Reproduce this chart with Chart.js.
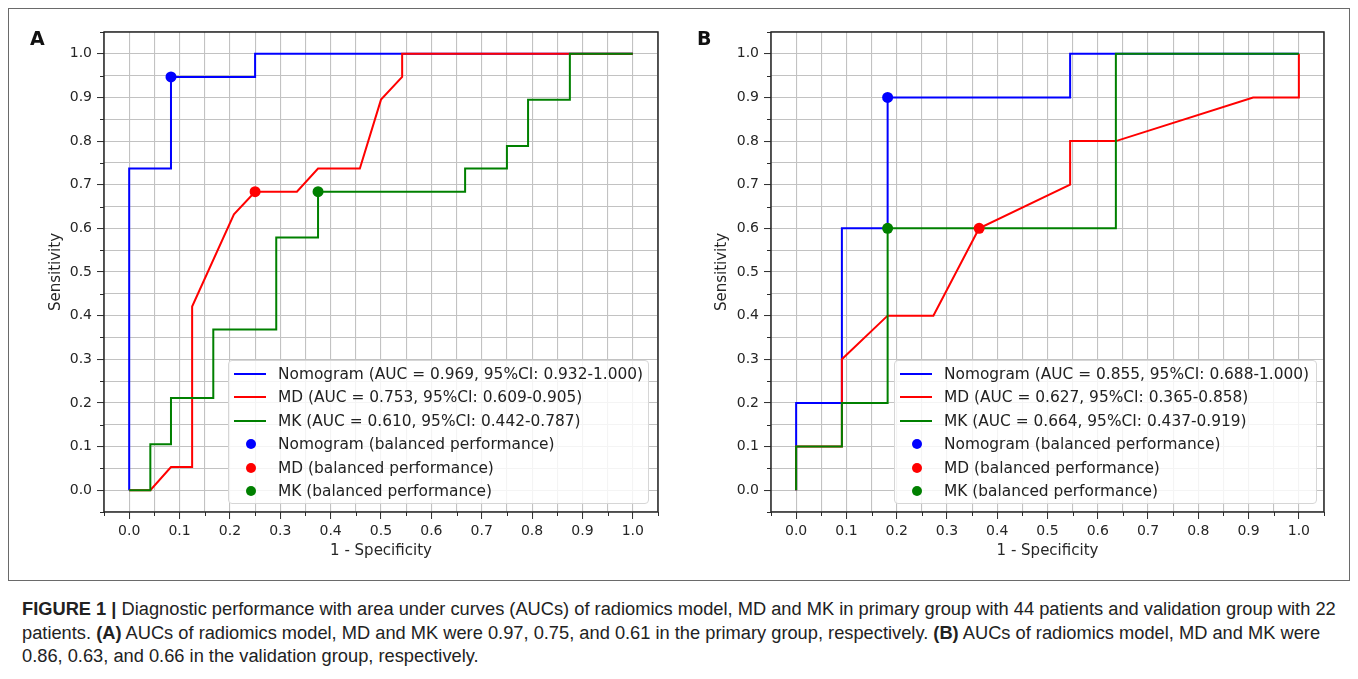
<!DOCTYPE html>
<html><head><meta charset="utf-8">
<script src="https://cdn.jsdelivr.net/npm/chart.js@4.4.0/dist/chart.umd.min.js"></script>
<style>
html,body{margin:0;padding:0;background:#fff;}
body{width:1358px;height:679px;overflow:hidden;position:relative;font-family:'DejaVu Sans',sans-serif;}
#frame{position:absolute;left:8px;top:8px;width:1342px;height:573px;border:1px solid #6a6a6a;box-sizing:border-box;}
canvas{position:absolute;top:0;}
#cA{left:0;} #cB{left:680px;}
.panel{position:absolute;font-family:'DejaVu Sans',sans-serif;font-weight:bold;font-size:19px;line-height:19px;color:#111;}
.legend{position:absolute;box-sizing:border-box;border:1px solid #d6d6d6;border-radius:4px;background:rgba(255,255,255,0.82);font-family:'DejaVu Sans',sans-serif;font-size:15.4px;color:#222;}
.row{position:absolute;left:0;height:20px;white-space:nowrap;}
.row .txt{position:absolute;left:49px;top:0;line-height:20px;}
.row .ln{position:absolute;left:5px;width:32px;height:2px;top:9px;}
.row .dt{position:absolute;left:17px;width:10px;height:10px;border-radius:50%;top:5px;}
#caption{position:absolute;left:22px;top:597px;font-family:'Liberation Sans',Arial,sans-serif;color:#222;line-height:23.5px;white-space:nowrap;}
</style>
</head><body>
<div id="frame"></div>
<canvas id="cA" width="680" height="580"></canvas>
<canvas id="cB" width="670" height="580"></canvas>
<div class="panel" style="left:30px;top:29px;">A</div>
<div class="panel" style="left:697px;top:29px;">B</div>
<div id="legA" class="legend" style="left:228px;top:360px;width:421px;height:144px;"></div>
<div id="legB" class="legend" style="left:894px;top:360px;width:423px;height:144px;"></div>
<div id="caption">
<div id="capL1"><b>FIGURE 1 |</b> Diagnostic performance with area under curves (AUCs) of radiomics model, MD and MK in primary group with 44 patients and validation group with 22</div>
<div>patients. <b>(A)</b> AUCs of radiomics model, MD and MK were 0.97, 0.75, and 0.61 in the primary group, respectively. <b>(B)</b> AUCs of radiomics model, MD and MK were</div>
<div>0.86, 0.63, and 0.66 in the validation group, respectively.</div>
</div>
<script>
// ---------- DATA ----------
// Panel A (primary group): 1 - specificity (fpr) and sensitivity (tpr)
const nomoA_fpr = [0, 0, 0.083, 0.083, 0.25, 0.25, 1.0];
const nomoA_tpr = [0, 0.737, 0.737, 0.947, 0.947, 1.0, 1.0];
const mdA_fpr = [0, 0.042, 0.083, 0.125, 0.125, 0.208, 0.25, 0.333, 0.375, 0.458, 0.5, 0.542, 0.542, 1.0];
const mdA_tpr = [0, 0, 0.053, 0.053, 0.421, 0.632, 0.684, 0.684, 0.737, 0.737, 0.895, 0.947, 1.0, 1.0];
const mkA_fpr = [0, 0.042, 0.042, 0.083, 0.083, 0.167, 0.167, 0.292, 0.292, 0.375, 0.375, 0.667, 0.667, 0.75, 0.75, 0.792, 0.792, 0.875, 0.875, 1.0];
const mkA_tpr = [0, 0, 0.105, 0.105, 0.211, 0.211, 0.368, 0.368, 0.579, 0.579, 0.684, 0.684, 0.737, 0.737, 0.789, 0.789, 0.895, 0.895, 1.0, 1.0];
const balancedA_fpr = [0.083, 0.25, 0.375];   // Nomogram, MD, MK
const balancedA_tpr = [0.947, 0.684, 0.684];
const legendA = ['Nomogram (AUC = 0.969, 95%CI: 0.932-1.000)', 'MD (AUC = 0.753, 95%CI: 0.609-0.905)', 'MK (AUC = 0.610, 95%CI: 0.442-0.787)'];

// Panel B (validation group)
const nomoB_fpr = [0, 0, 0.091, 0.091, 0.182, 0.182, 0.545, 0.545, 0.636, 1.0];
const nomoB_tpr = [0, 0.2, 0.2, 0.6, 0.6, 0.9, 0.9, 1.0, 1.0, 1.0];
const mdB_fpr = [0, 0, 0.091, 0.091, 0.182, 0.273, 0.364, 0.545, 0.545, 0.636, 0.909, 1.0, 1.0];
const mdB_tpr = [0, 0.1, 0.1, 0.3, 0.4, 0.4, 0.6, 0.7, 0.8, 0.8, 0.9, 0.9, 1.0];
const mkB_fpr = [0, 0, 0.091, 0.091, 0.182, 0.182, 0.636, 0.636, 1.0];
const mkB_tpr = [0, 0.1, 0.1, 0.2, 0.2, 0.6, 0.6, 1.0, 1.0];
const balancedB_fpr = [0.182, 0.364, 0.182];
const balancedB_tpr = [0.9, 0.6, 0.6];
const legendB = ['Nomogram (AUC = 0.855, 95%CI: 0.688-1.000)', 'MD (AUC = 0.627, 95%CI: 0.365-0.858)', 'MK (AUC = 0.664, 95%CI: 0.437-0.919)'];

const seriesNames = ['Nomogram', 'MD', 'MK'];
const seriesColors = ['#0000ff', '#ff0000', '#008000'];
const tickLabels = ['0.0','0.1','0.2','0.3','0.4','0.5','0.6','0.7','0.8','0.9','1.0'];
const gridValues = [-0.05,0,0.05,0.1,0.15,0.2,0.25,0.3,0.35,0.4,0.45,0.5,0.55,0.6,0.65,0.7,0.75,0.8,0.85,0.9,0.95,1.0,1.05];
const axisMin = -0.05, axisMax = 1.05;

// ---------- HELPERS ----------
const pts = (xs, ys) => xs.map((x, i) => ({x: x, y: ys[i]}));
const majorIdx = v => { const k = Math.round(v * 10); return Math.abs(v * 10 - k) < 1e-6 && k >= 0 && k <= 10 ? k : -1; };

const framePlugin = {
  id: 'frameMinor',
  afterDraw(chart) {
    const ctx = chart.ctx, a = chart.chartArea;
    ctx.save();
    ctx.strokeStyle = '#2b2b2b';
    ctx.lineWidth = 1;
    // minor ticks
    const xs = chart.scales.x, ys = chart.scales.y;
    gridValues.forEach(v => {
      if (majorIdx(v) >= 0) return;
      const px = Math.round(xs.getPixelForValue(v)) + 0.5;
      ctx.beginPath(); ctx.moveTo(px, a.bottom); ctx.lineTo(px, a.bottom + 4); ctx.stroke();
      const py = Math.round(ys.getPixelForValue(v)) + 0.5;
      ctx.beginPath(); ctx.moveTo(a.left, py); ctx.lineTo(a.left - 4, py); ctx.stroke();
    });
    ctx.lineWidth = 1.5;
    ctx.strokeStyle = '#262626';
    ctx.strokeRect(a.left, a.top, a.right - a.left, a.bottom - a.top);
    ctx.restore();
  }
};

function axisCfg(isX, titleText, titlePad, fitSize) {
  return {
    type: 'linear', min: axisMin, max: axisMax,
    afterBuildTicks: s => { s.ticks = gridValues.map(v => ({value: v})); },
    afterFit: s => { if (isX) s.height = fitSize; else s.width = fitSize; },
    border: {display: false},
    grid: {
      color: '#c2c2c2', lineWidth: 1.1, drawTicks: true, tickLength: 7,
      tickColor: c => majorIdx(c.tick.value) >= 0 ? '#2b2b2b' : 'rgba(0,0,0,0)', tickWidth: 1
    },
    ticks: {
      autoSkip: false, maxRotation: 0, minRotation: 0,
      padding: isX ? 4 : 5,
      color: '#262626',
      font: {family: 'DejaVu Sans', size: 14},
      callback: v => { const k = majorIdx(v); return k >= 0 ? tickLabels[k] : ''; }
    },
    title: {
      display: true, text: titleText, color: '#262626',
      font: {family: 'DejaVu Sans', size: 15},
      padding: isX ? {top: 0, bottom: titlePad} : {top: titlePad, bottom: 0}
    }
  };
}

function buildChart(id, lines, balX, balY, labels, padding, yTitlePad) {
  const datasets = [];
  lines.forEach((l, i) => {
    datasets.push({
      label: labels[i], data: pts(l[0], l[1]), showLine: true,
      borderColor: seriesColors[i], backgroundColor: seriesColors[i],
      borderWidth: 2, pointRadius: 0, pointHoverRadius: 0, tension: 0,
      order: 6 - i
    });
  });
  seriesNames.forEach((n, i) => {
    datasets.push({
      label: n + ' (balanced performance)', data: [{x: balX[i], y: balY[i]}], showLine: false,
      backgroundColor: seriesColors[i], borderColor: seriesColors[i], borderWidth: 0,
      pointRadius: 5.5, pointHoverRadius: 5.5, order: 3 - i
    });
  });
  return new Chart(document.getElementById(id), {
    type: 'scatter',
    data: {datasets: datasets},
    options: {
      responsive: false, animation: false, events: [],
      layout: {padding: padding},
      plugins: {legend: {display: false}, tooltip: {enabled: false}},
      scales: {
        x: axisCfg(true, '1 - Specificity', 12, 60),
        y: axisCfg(false, 'Sensitivity', yTitlePad, padding.yw)
      }
    },
    plugins: [framePlugin]
  });
}

const chartA = buildChart('cA',
  [[nomoA_fpr, nomoA_tpr], [mdA_fpr, mdA_tpr], [mkA_fpr, mkA_tpr]],
  balancedA_fpr, balancedA_tpr, legendA,
  {left: 0, top: 32, right: 22, bottom: 8, yw: 104}, 47);
const chartB = buildChart('cB',
  [[nomoB_fpr, nomoB_tpr], [mdB_fpr, mdB_tpr], [mkB_fpr, mkB_tpr]],
  balancedB_fpr, balancedB_tpr, legendB,
  {left: 0, top: 32, right: 26, bottom: 8, yw: 91}, 33);

// ---------- HTML legends built from the datasets ----------
function buildLegend(chart, elId) {
  const el = document.getElementById(elId);
  chart.data.datasets.forEach((d, i) => {
    const row = document.createElement('div');
    row.className = 'row';
    row.style.top = (3 + i * 23.4) + 'px';
    const sw = document.createElement('div');
    sw.className = d.showLine ? 'ln' : 'dt';
    sw.style.background = d.backgroundColor;
    const t = document.createElement('div');
    t.className = 'txt';
    t.textContent = d.label;
    row.appendChild(sw); row.appendChild(t);
    el.appendChild(row);
  });
}
buildLegend(chartA, 'legA');
buildLegend(chartB, 'legB');

// fit caption font so first line spans the reference width
(function () {
  const cap = document.getElementById('caption');
  cap.style.fontSize = '15px';
  const w = document.getElementById('capL1').scrollWidth;
  const l1 = document.getElementById('capL1');
  const r = document.createRange(); r.selectNodeContents(l1);
  const tw = r.getBoundingClientRect().width;
  cap.style.fontSize = (15 * 1314 / tw).toFixed(2) + 'px';
})();
</script>
</body></html>
